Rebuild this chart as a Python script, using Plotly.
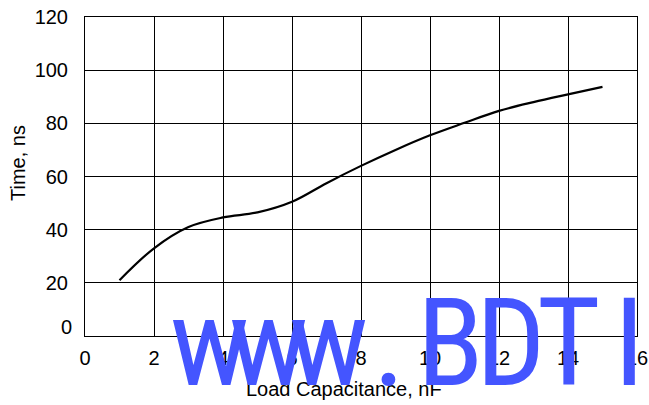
import plotly.graph_objects as go

# Data
load_capacitance_nf = [1, 2, 3, 4, 5, 6, 7, 8, 9, 10, 11, 12, 13, 14, 15]
time_ns = [21, 33, 41, 44.6, 46.5, 50.5, 57.5, 64, 70, 75.5, 80.2, 84.7, 88, 90.9, 93.7]

x_ticks = [0, 2, 4, 6, 8, 10, 12, 14, 16]
y_ticks = [20, 40, 60, 80, 100, 120]

watermark_letters = ["w", "w", "w", ".", "B", "D", "T", "I"]

FONT = "Liberation Sans, Arial, sans-serif"
WM_FONT = "Roboto Condensed, Liberation Sans Narrow, Arial Narrow, sans-serif"

# plot area in pixels
L, R, T, B = 85, 637, 17, 336
W, H = R - L, B - T

fig = go.Figure()
fig.add_trace(go.Scatter(
    x=load_capacitance_nf, y=time_ns, mode="lines",
    line=dict(color="black", width=2.2, shape="spline", smoothing=1.0),
    showlegend=False, hoverinfo="skip",
))
fig.add_trace(go.Scatter(x=[0], y=[0], yaxis="y2", mode="markers",
                         marker=dict(opacity=0), showlegend=False, hoverinfo="skip"))

fig.update_layout(
    width=649, height=405,
    margin=dict(l=L, r=649 - R, t=T, b=405 - B),
    plot_bgcolor="white", paper_bgcolor="white",
    font=dict(family=FONT, size=20, color="black"),
    xaxis=dict(range=[0, 16], tickvals=x_ticks, showgrid=True, gridcolor="black",
               gridwidth=1, showline=True, linecolor="black", linewidth=1, mirror=True,
               ticks="", zeroline=False, tickfont=dict(size=20), automargin=False,
               ticklabelstandoff=4),
    yaxis=dict(range=[0, 120], tickvals=y_ticks, showgrid=True, gridcolor="black",
               gridwidth=1, showline=True, linecolor="black", linewidth=1, mirror=True,
               ticks="", zeroline=False, tickfont=dict(size=20), ticklabelstandoff=12,
               automargin=False),
    yaxis2=dict(range=[0, 120], overlaying="y", side="left", tickvals=[0],
                ticktext=["0"], showgrid=False, showline=False, zeroline=False,
                ticks="", tickfont=dict(size=20), ticklabelshift=-9,
                ticklabelstandoff=12, automargin=False),
    showlegend=False,
)

fig.add_annotation(text="Load Capacitance, nF", xref="paper", yref="paper",
                   x=(344 - L) / W, y=-(389 - B) / H, xanchor="center",
                   yanchor="middle", showarrow=False, font=dict(size=20, family=FONT))
fig.add_annotation(text="Time, ns", xref="paper", yref="paper", textangle=-90,
                   x=-(L - 18) / W, y=(B - 163) / H, xanchor="center",
                   yanchor="middle", showarrow=False, font=dict(size=20, family=FONT))

# watermark letters, centred at their pixel positions in the reference
letter_centers_px = [209, 268, 328, 388.5, 450, 511, 568.5, 629.5]
for ch, cx in zip(watermark_letters, letter_centers_px):
    fig.add_annotation(text=ch, xref="paper", yref="paper",
                       x=(cx - L) / W, y=-(417 - B) / H, xanchor="center", yanchor="bottom",
                       showarrow=False,
                       font=dict(size=122, color="#4455FF", family=WM_FONT))

fig.write_html("out.html", config={"displayModeBar": False},
               post_script="document.body.style.margin='0';")
